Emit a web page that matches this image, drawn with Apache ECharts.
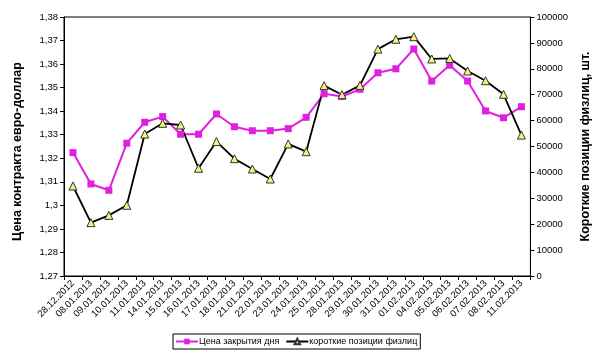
<!DOCTYPE html>
<html>
<head>
<meta charset="utf-8">
<script src="https://cdn.jsdelivr.net/npm/echarts@6/dist/echarts.min.js"></script>
<style>html,body{margin:0;padding:0;background:#fff;}#c{width:600px;height:356px;}</style>
</head>
<body>
<div id="c"></div>
<script>
var categories = ['28.12.2012','08.01.2013','09.01.2013','10.01.2013','11.01.2013','14.01.2013','15.01.2013','16.01.2013','17.01.2013','18.01.2013','21.01.2013','22.01.2013','23.01.2013','24.01.2013','25.01.2013','28.01.2013','29.01.2013','30.01.2013','31.01.2013','01.02.2013','04.02.2013','05.02.2013','06.02.2013','07.02.2013','08.02.2013','11.02.2013'];
var closePrice = [1.3224,1.3091,1.3064,1.3264,1.3353,1.3377,1.3302,1.3302,1.3388,1.3334,1.3317,1.3317,1.3326,1.3374,1.3474,1.3462,1.3493,1.3563,1.3580,1.3664,1.3528,1.3595,1.3528,1.3401,1.3372,1.3419];
var shortPositions = [34750,20600,23400,27300,54800,58950,58300,41600,51900,45300,41300,37450,51000,48000,73500,70000,73600,87600,91400,92400,83800,84000,79150,75400,70150,54400];
var seriesNames = ['Цена закрытия дня','короткие позиции физлиц'];
var leftAxisTitle = 'Цена контракта евро-доллар';
var rightAxisTitle = 'Короткие позиции физлиц, шт.';

var font = 'Arial, "Liberation Sans", sans-serif';
var chart = echarts.init(document.getElementById('c'), null, {renderer:'canvas'});
chart.setOption({
  animation:false,
  backgroundColor:'#fff',
  textStyle:{fontFamily:font},
  grid:{left:64,right:68,top:17,bottom:80,show:true,borderColor:'#000',borderWidth:1,backgroundColor:'transparent'},
  legend:{
    left:173, top:334, padding:[3,3,3,2],
    borderColor:'#000', borderWidth:1, borderRadius:0,
    itemWidth:22, itemHeight:7, itemGap:6,
    textStyle:{fontSize:9,color:'#000',fontFamily:font,padding:[0,0,0,-4]},
    data:seriesNames
  },
  xAxis:{
    type:'category', data:categories, boundaryGap:true,
    axisLine:{lineStyle:{color:'#000',width:1}},
    axisTick:{show:true,alignWithLabel:false,length:4,lineStyle:{color:'#000'}},
    axisLabel:{rotate:45,fontSize:9.5,color:'#000',margin:6,interval:0,fontFamily:font},
    splitLine:{show:false}
  },
  yAxis:[{
    type:'value', min:1.27, max:1.38, interval:0.01, position:'left',
    name:leftAxisTitle, nameLocation:'middle', nameRotate:90, nameGap:40,
    nameTextStyle:{fontSize:12.5,fontWeight:'bold',color:'#000',fontFamily:font,padding:[0,10,0,0]},
    axisLine:{show:true,lineStyle:{color:'#000'}},
    axisTick:{show:true,length:4,lineStyle:{color:'#000'}},
    axisLabel:{fontSize:9.5,color:'#000',margin:6,fontFamily:font,formatter:function(v){return String(+v.toFixed(2)).replace('.',',');}},
    splitLine:{show:false}
  },{
    type:'value', min:0, max:100000, interval:10000, position:'right',
    name:rightAxisTitle, nameLocation:'middle', nameRotate:90, nameGap:45,
    nameTextStyle:{fontSize:12.5,fontWeight:'bold',color:'#000',fontFamily:font},
    axisLine:{show:true,lineStyle:{color:'#000'}},
    axisTick:{show:true,length:4,lineStyle:{color:'#000'}},
    axisLabel:{fontSize:9.5,color:'#000',margin:6,fontFamily:font,formatter:function(v){return String(v);}},
    splitLine:{show:false}
  }],
  series:[{
    name:seriesNames[0], type:'line', yAxisIndex:0, data:closePrice,
    symbol:'rect', symbolSize:7, showAllSymbol:true,
    lineStyle:{color:'#e020e0',width:2},
    itemStyle:{color:'#e020e0',borderWidth:0}
  },{
    name:seriesNames[1], type:'line', yAxisIndex:1, data:shortPositions,
    symbol:'triangle', symbolSize:8, showAllSymbol:true,
    lineStyle:{color:'#000',width:1.8},
    itemStyle:{color:'#f4f27a',borderColor:'#333',borderWidth:1}
  }]
});
</script>
</body>
</html>
